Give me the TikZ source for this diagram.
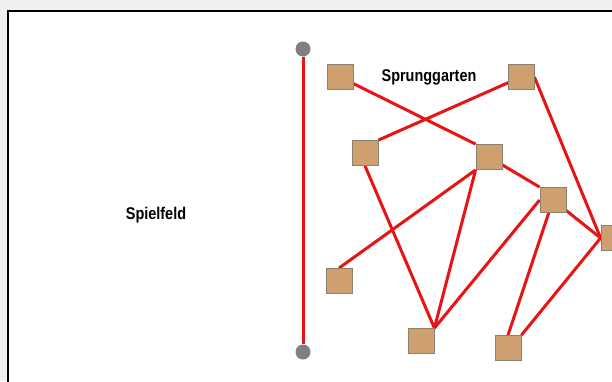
\documentclass[tikz,border=0pt]{standalone}
\usepackage{fontspec}
\setmainfont[FakeStretch=0.85]{Liberation Sans}
\usetikzlibrary{backgrounds}
\definecolor{sable}{RGB}{207,160,111}
\definecolor{bord}{RGB}{140,128,110}
\definecolor{fond}{RGB}{240,240,240}
\definecolor{rouge}{RGB}{232,20,20}
\tikzset{
  bloc/.style={draw=bord,fill=sable,line width=.8pt,minimum width=26pt,minimum height=25pt,inner sep=0pt},
  borne/.style={circle,fill=gray,inner sep=0pt,minimum size=15pt},
  lien/.style={rouge,line width=3pt},
  titre/.style={font=\fontsize{17}{20}\selectfont\bfseries}
}
\begin{document}
\begin{tikzpicture}[x=1pt,y=-1pt]
\useasboundingbox (0,0) rectangle (612,381);
% Blocs du Sprunggarten
\foreach \n/\x/\y in {1/340/77,2/521/77,3/365/153,4/489/157,5/553/200,%
  6/614/238,7/339/281,8/421/341,9/508/348}
  \node[bloc] (b\n) at (\x,\y) {};
% Bornes de la barrière
\node[borne] (haut) at (303,49) {};
\node[borne] (bas) at (303,352) {};
\node[titre] (jeu) at (156,215) {Spielfeld};
\node[titre] (saut) at (429,77) {Sprunggarten};
\begin{pgfonlayer}{background}
  \fill[fond] (0,0) rectangle (612,381);
  \draw[line width=1.3pt,fill=white] (8,11) rectangle (640,400);
  \draw[lien] (haut) -- (bas);
  % Liaisons entre les blocs
  \foreach \a/\b in {b1.center/b4.north west, b2.center/b3.north east,
    b2.east/b6.west, b3.south/b8.north east, b4.south west/b7.north,
    b4.south west/b8.north east, b4.center/b5.north west,
    b5.west/b8.north east, b5.center/b9.north, b5.center/b6.west,
    b6.west/b9.north east}
    \draw[lien] (\a) -- (\b);
\end{pgfonlayer}
\end{tikzpicture}
\end{document}
